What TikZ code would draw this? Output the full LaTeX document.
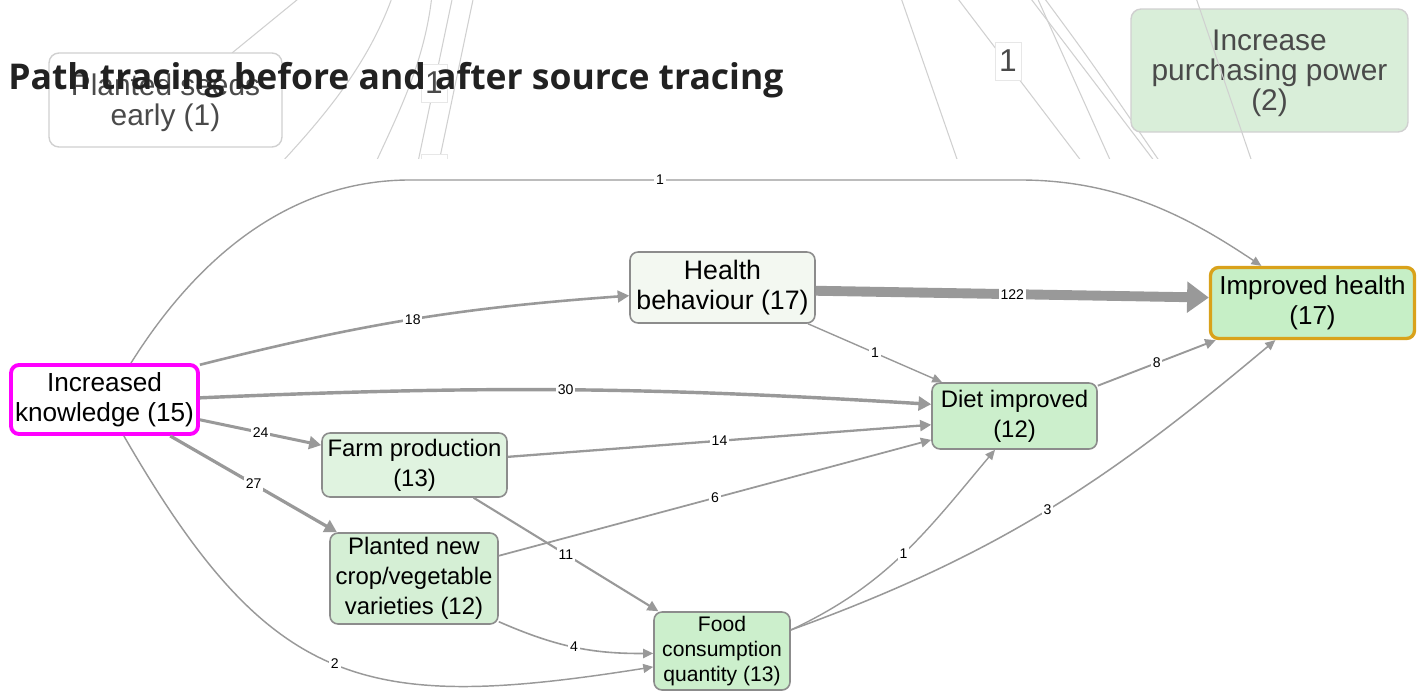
\documentclass[tikz,border=0pt]{standalone}
\usepackage{fontspec}
\setmainfont{Liberation Sans}
\newfontfamily\titlefont{Open Sans}
\usetikzlibrary{arrows.meta}

\begin{document}
\begin{tikzpicture}[x=0.02cm, y=-0.02cm]

% Define colors
\definecolor{edgegray}{HTML}{999999}
\definecolor{fadegray}{HTML}{D0D0D0}
\definecolor{fadetext}{HTML}{4A4A4A}
\definecolor{boxline}{HTML}{8C8C8C}
\definecolor{knowline}{HTML}{FF00FF}
\definecolor{goalline}{HTML}{D9A21B}
\definecolor{fillpale}{HTML}{F3F8F1}
\definecolor{filllight}{HTML}{E0F3E0}
\definecolor{fillmid}{HTML}{D5EFD5}
\definecolor{filldeep}{HTML}{CCEFCC}
\definecolor{fillgoal}{HTML}{C6EFC6}
\definecolor{fillfade}{HTML}{D9EED9}

\tikzset{
    box/.style={draw=boxline, line width=0.9pt, rounded corners=0.16cm, align=center,
        inner sep=0pt, font=\fontsize{13.6}{17}\selectfont},
    flow/.style={draw=edgegray, line width={0.75pt+0.04pt*#1},
        -{Triangle[length=4.5pt 1.4, width=3pt 2.5]}},
    lbl/.style={fill=white, inner sep=1pt, font=\fontsize{8}{9}\selectfont},
    fadebox/.style={draw=fadegray, line width=0.8pt, rounded corners=0.2cm, inner sep=0pt},
    fadetxt/.style={align=center, inner sep=0pt, text=fadetext, font=\fontsize{17}{17}\selectfont},
    fadelbl/.style={draw=fadegray!50, fill=white, inner sep=0pt, minimum width=0.52cm,
        minimum height=0.76cm, text=fadetext, font=\fontsize{18}{18}\selectfont},
    fadeline/.style={draw=fadegray, line width=0.6pt},
}

\useasboundingbox (0,0) rectangle (1426,696);
\fill[white] (0,0) rectangle (1426,696);

% Faded band behind the title
\begin{scope}
\clip (0,0) rectangle (1426,158);
\draw[fadeline] (303,-5) -- (232,53);
\draw[fadeline] (393,-5) .. controls (370,60) and (330,110) .. (282,162);
\draw[fadeline] (432,-5) .. controls (425,60) and (400,110) .. (376,162);
\draw[fadeline] (453,-5) -- (418,162);
\draw[fadeline] (474,-5) -- (439,162);
\draw[fadeline] (900,-5) -- (958,162);
\draw[fadeline] (955,-5) -- (1082,162);
\draw[fadeline] (1028,-5) -- (1155,162);
\draw[fadeline] (1036,-5) -- (1111,162);
\draw[fadeline] (1042,-5) .. controls (1090,60) .. (1160,162);

\node[fadebox, fill=white, minimum width=4.66cm, minimum height=1.88cm] (seeds) at (165.5,100) {};
\node[fadetxt] (seedstext) at ([yshift=-0.06cm]seeds.center) {Planted seeds\\early (1)};
\node[fadebox, fill=fillfade, minimum width=5.54cm, minimum height=2.46cm] (power) at (1269.5,70.5) {};
\node[fadetxt] (powertext) at ([yshift=-0.06cm]power.center) {Increase\\purchasing power\\(2)};
\node[fadelbl] (fadeone) at (434,83) {1};
\node[fadelbl] (fadetwo) at (434,173) {1};
\node[fadelbl] (fadethree) at (1008,61) {1};
\draw[fadeline] (1195,-5) -- (1252,162);
\end{scope}

% Title
\node[anchor=base west, inner sep=0pt, text=black!87,
    font=\titlefont\bfseries\fontsize{20.2}{24}\selectfont] (title) at (8,90)
    {Path tracing before and after source tracing};

% Draw the nodes
\node[box, draw=knowline, line width=2.2pt, fill=white, minimum width=3.74cm, minimum height=1.38cm,
    font=\fontsize{14.9}{17}\selectfont] (know) at (104.5,399.5) {Increased\\knowledge (15)};
\node[box, fill=fillpale, minimum width=3.70cm, minimum height=1.42cm,
    font=\fontsize{15.2}{17.5}\selectfont] (health) at (722.5,287.5) {Health\\behaviour (17)};
\node[box, draw=goalline, line width=1.9pt, fill=fillgoal, minimum width=4.08cm, minimum height=1.42cm,
    font=\fontsize{14.8}{17}\selectfont] (goal) at (1312.5,303) {Improved health\\(17)};
\node[box, fill=filldeep, minimum width=3.30cm, minimum height=1.32cm] (diet) at (1014.5,416) {Diet improved\\(12)};
\node[box, fill=filllight, minimum width=3.70cm, minimum height=1.28cm] (farm) at (414.5,465) {Farm production\\(13)};
\node[box, fill=fillmid, minimum width=3.36cm, minimum height=1.82cm] (crops) at (414,578.5) {Planted new\\crop/vegetable\\varieties (12)};
\node[box, fill=filldeep, minimum width=2.72cm, minimum height=1.56cm, font=\fontsize{12}{14.2}\selectfont] (food) at (722,651) {Food\\consumption\\quantity (13)};

% Draw the edges, width follows the count
\draw[flow=1] (know.54) .. controls (205,245) and (300,180) .. (410,180) -- node[lbl, pos=0.41]{1} (1020,180) .. controls (1120,180) and (1190,218) .. (goal.144);
\draw[flow=18] (know.20) to[bend left=5] node[lbl]{18} (health.185);
\draw[flow=30] (know.1) to[bend left=3] node[lbl]{30} (diet.172);
\draw[flow=24] (know.-12) -- node[lbl]{24} (farm.168);
\draw[flow=27] (know.-29) -- node[lbl]{27} (crops.149);
\draw[flow=2] (know.-62) to[out=-60, in=189, looseness=1.3] node[lbl]{2} (food.193);
\draw[flow=122] (health.-2) -- node[lbl]{122} (goal.177);
\draw[flow=1] (health.-23) -- node[lbl]{1} (diet.155);
\draw[flow=8] (diet.20) -- node[lbl]{8} (goal.-159);
\draw[flow=14] (farm.5) -- node[lbl]{14} (diet.186);
\draw[flow=11] (farm.-29) -- node[lbl]{11} (food.148);
\draw[flow=6] (crops.15) -- node[lbl]{6} (diet.196);
\draw[flow=4] (crops.-27) to[bend right=12] node[lbl]{4} (food.182);
\draw[flow=1] (food.17) to[out=25, in=-130] node[lbl]{1} (diet.240);
\draw[flow=3] (food.17) to[out=20, in=-140] node[lbl]{3} (goal.-135);

\end{tikzpicture}
\end{document}
